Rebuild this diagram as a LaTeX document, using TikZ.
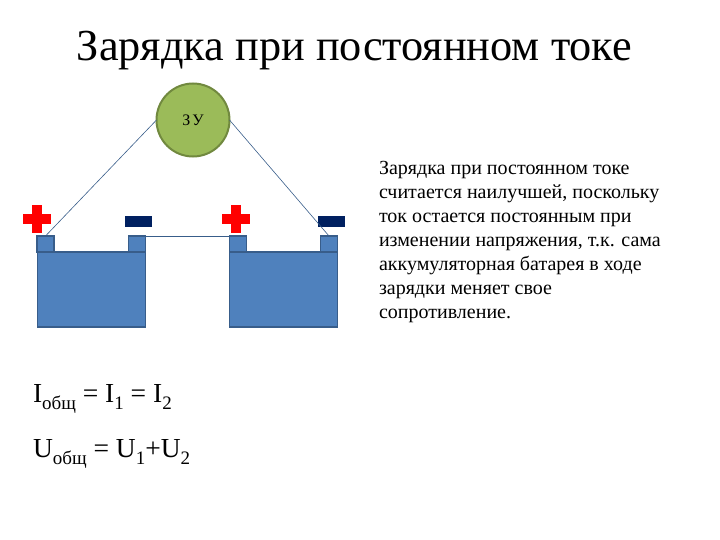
\documentclass[tikz,border=0pt]{standalone}
\usepackage{fontspec}
\setmainfont{Liberation Serif}
\definecolor{cellblue}{HTML}{4F81BD}
\definecolor{celledge}{HTML}{385D8A}
\definecolor{zugreen}{HTML}{9BBB59}
\definecolor{zuedge}{HTML}{71893F}
\definecolor{minusblue}{HTML}{002060}
\newcommand{\lowidx}[1]{\raisebox{-7pt}{\fontsize{19}{20}\selectfont #1}}
\begin{document}
\begin{tikzpicture}[x=1pt,y=-1pt]
			\tikzstyle{every node}=[inner sep=0pt,outer sep=0pt]
			\tikzstyle{cell}=[draw=celledge,fill=cellblue,line width=1.5pt,minimum width=108pt,minimum height=75pt]
			\tikzstyle{pole}=[draw=celledge,fill=cellblue,line width=1.5pt,minimum width=17pt,minimum height=16pt]
			\tikzstyle{wire}=[draw=celledge,line width=0.6pt]
			\tikzstyle{plusbar}=[fill=red,minimum width=28pt,minimum height=10pt]
			\tikzstyle{plusup}=[fill=red,minimum width=10pt,minimum height=27pt]
			\tikzstyle{minusbar}=[fill=minusblue,minimum width=27pt,minimum height=11pt]
			\useasboundingbox (0,0) rectangle (720,540);
			\node (title) at (354.5,51) {\fontsize{44.3}{50}\selectfont Зарядка при постоянном токе};
			\node[circle,draw=zuedge,fill=zugreen,line width=2pt,minimum size=73pt] (zu) at (193,120) {\fontsize{16}{18}\selectfont З\kern2pt У};
			\node[cell] (cella) at (91.5,289.5) {};
			\node[cell] (cellb) at (283.5,289.5) {};
			\node[pole] (polea) at (45.5,244) {};
			\node[pole] (poleb) at (137,244) {};
			\node[pole] (polec) at (238,244) {};
			\node[pole] (poled) at (329,244) {};
			\node[plusbar] (plusah) at (37,219) {};
			\node[plusup] (plusav) at (37,219) {};
			\node[plusbar] (plusbh) at (235.5,219) {};
			\node[plusup] (plusbv) at (235.5,219) {};
			\node[minusbar] (minusa) at (138.5,221.5) {};
			\node[minusbar] (minusb) at (331,221.5) {};
			\draw[wire] (zu.west) -- (polea.north);
			\draw[wire] (zu.east) -- (poled.north);
			\draw[wire] (poleb.north east) -- (polec.north west);
			\node[anchor=north west,align=left,font=\fontsize{20}{24}\selectfont] (note) at (379,161) {Зарядка при постоянном токе\\считается наилучшей, поскольку\\ток остается постоянным при\\изменении напряжения, т.к. сама\\аккумуляторная батарея в ходе\\зарядки меняет свое\\сопротивление.};
			\node[anchor=base west,font=\fontsize{27.5}{32}\selectfont] (icur) at (33,402) {I\lowidx{общ} = I\lowidx{1} = I\lowidx{2}};
			\node[anchor=base west,font=\fontsize{27.5}{32}\selectfont] (ucur) at (33,457) {U\lowidx{общ} = U\lowidx{1}+U\lowidx{2}};
\end{tikzpicture}
\end{document}
